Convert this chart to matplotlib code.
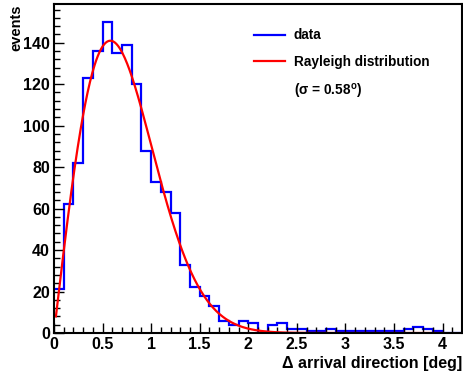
import numpy as np
import matplotlib
matplotlib.use("Agg")
import matplotlib.pyplot as plt
from matplotlib.lines import Line2D
from matplotlib.ticker import MultipleLocator

plt.rcParams['font.family'] = ['Liberation Sans', 'DejaVu Sans']
plt.rcParams['font.weight'] = 'bold'
plt.rcParams['mathtext.default'] = 'regular'

# histogram: bin edges and counts per 0.1 deg bin
bin_edges = np.round(np.arange(0, 4.21, 0.1), 2)
counts = [21, 62, 82, 123, 136, 150, 135, 139, 120, 88,
          73, 68, 58, 33, 22, 18, 13, 6, 4, 6,
          5, 0, 4, 5, 2, 2, 1, 1, 2, 1,
          1, 1, 1, 1, 1, 1, 2, 3, 2, 1,
          0, 0]

# Rayleigh fit parameters
SIGMA = 0.58
NORM = 134.8       # events * bin width
FIT_MIN, FIT_MAX = 0.02, 4.0

fig = plt.figure(figsize=(4.63, 3.75), dpi=100)
ax = fig.add_axes([0.1166, 0.112, 0.8814, 0.877])

ax.stairs(counts, bin_edges, color='#0000ff', linewidth=1.6, baseline=None)

x = np.linspace(FIT_MIN, FIT_MAX, 500)
y = NORM * x / SIGMA**2 * np.exp(-x**2 / (2 * SIGMA**2))
ax.plot(x, y, color='#ff0000', linewidth=1.6)

ax.set_xlim(0, 4.2)
ax.set_ylim(0, 158.6)
ax.xaxis.set_major_locator(MultipleLocator(0.5))
ax.xaxis.set_minor_locator(MultipleLocator(0.1))
ax.yaxis.set_major_locator(MultipleLocator(20))
ax.yaxis.set_minor_locator(MultipleLocator(4))
ax.xaxis.set_major_formatter(plt.FuncFormatter(lambda v, p: f'{v:g}'))
ax.tick_params(which='both', direction='in', top=False, right=False,
               labelsize=11.5, width=1.0)
ax.tick_params(which='major', length=7, pad=3)
ax.tick_params(which='minor', length=4)
for s in ax.spines.values():
    s.set_linewidth(1.5)

ax.set_xlabel('Δ arrival direction [deg]', fontsize=11.5, fontweight='bold')
ax.xaxis.set_label_coords(1.0, -0.07)
ax.xaxis.label.set_horizontalalignment('right')
ax.set_ylabel('events', fontsize=10.5, fontweight='bold')
ax.yaxis.set_label_coords(-0.11, 1.0)
ax.yaxis.label.set_verticalalignment('top')
ax.yaxis.label.set_horizontalalignment('right')

handles = [Line2D([], [], color='#0000ff', linewidth=1.6),
           Line2D([], [], color='#ff0000', linewidth=1.6),
           Line2D([], [], color='none')]
labels = ['data', 'Rayleigh distribution', '(σ = 0.58$^{o}$)']
leg = ax.legend(handles, labels, loc='upper left', bbox_to_anchor=(0.477, 0.943),
                frameon=False, fontsize=9.8, handlelength=2.3, handletextpad=0.6,
                labelspacing=0.95, borderaxespad=0)

fig.savefig('out.png', dpi=100)
